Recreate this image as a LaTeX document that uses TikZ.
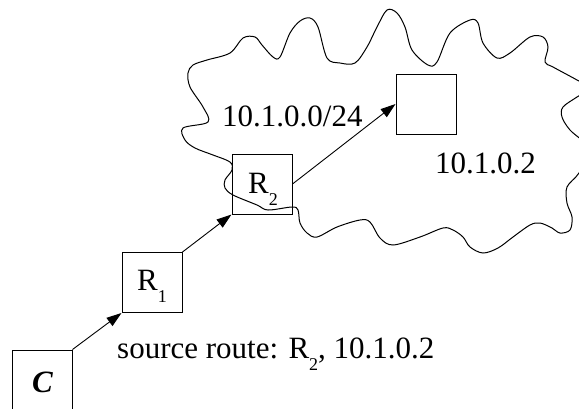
\documentclass[tikz,border=0pt]{standalone}
\usepackage{fontspec}
\setmainfont{Liberation Serif}
\usetikzlibrary{arrows.meta}
\newcommand\subdrop[1]{\raisebox{-12pt}{\fontsize{18}{18}\selectfont #1}}
\begin{document}
\begin{tikzpicture}[x=1pt,y=-1pt,
  box/.style={draw,line width=1pt,minimum width=60pt,minimum height=60pt,inner sep=0pt},
  lbl/.style={inner sep=0pt,font=\fontsize{31}{31}\selectfont},
  conn/.style={line width=0.9pt,-{Triangle[length=15pt,width=10pt]}},
  cloud/.style={line width=1pt}]
\useasboundingbox (0,0) rectangle (579,408);
\clip (0,0) rectangle (579,408);
\draw[cloud] plot[smooth cycle,tension=0.55] coordinates {
(183,128) (208,122) (203,107) (190,87) (188,73) (193,65) (207,60) (230,53)
(243,38) (255,37) (262,45) (273,57) (280,57) (290,33) (300,21) (310,18) (318,27)
(327,58) (340,63) (355,63) (367,47) (377,27) (387,10) (397,13) (405,27) (412,50)
(428,65) (437,62) (450,33) (470,20) (478,23) (483,43) (497,58) (510,53) (530,37)
(543,37) (548,47) (545,62) (553,67) (577,80) (590,88) (577,97) (563,107) (562,117)
(570,130) (590,150) (579,173) (567,187) (567,203) (572,217) (570,230) (560,233)
(552,228) (540,223) (530,225) (513,237) (498,248) (483,253) (470,247) (463,237)
(453,230) (443,228) (420,237) (393,245) (380,238) (370,222) (360,220) (337,227)
(317,237) (307,233) (300,223) (298,210) (292,207) (268,210) (257,205) (233,195)
(225,188) (225,180) (232,170) (230,162) (213,155) (195,148) (185,140)};
\node[box] (c) at (42,380) {};
\node[box] (r1) at (152,282.5) {};
\node[box] (r2) at (262,184) {};
\node[box] (d) at (426,104) {};
\node[lbl,anchor=base west] (ct) at (32,392) {\bfseries\itshape C};
\node[lbl,anchor=base west] (r1t) at (137,290) {R\subdrop{1}};
\node[lbl,anchor=base west] (r2t) at (248,193) {R\subdrop{2}};
\node[lbl,anchor=base west] (net) at (222,126) {10.1.0.0/24};
\node[lbl,anchor=base west] (addr) at (435,173) {10.1.0.2};
\node[lbl,anchor=base west] (src) at (117,358) {source route: R\subdrop{2}, 10.1.0.2};
\draw[conn] (c.north east) -- (r1.south west);
\draw[conn] (r1.north east) -- (r2.south west);
\draw[conn] (r2.east) -- (d.west);
\end{tikzpicture}
\end{document}
